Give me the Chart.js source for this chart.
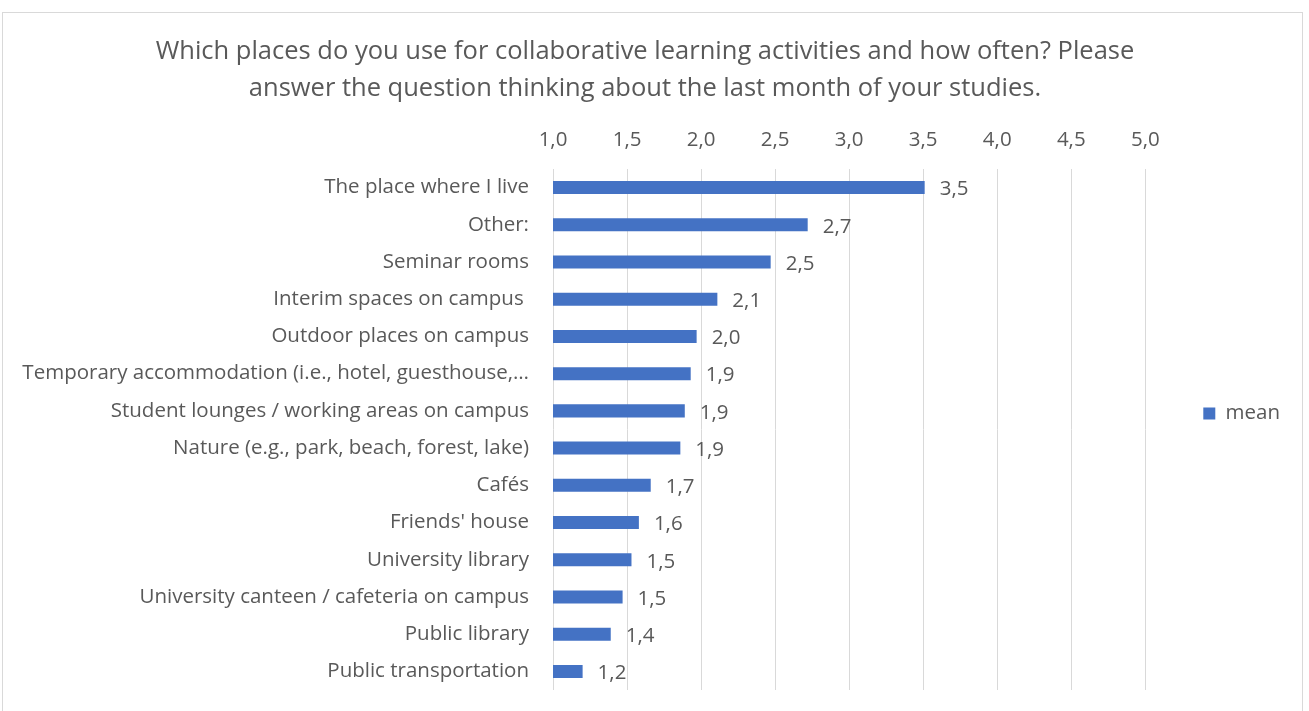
<!doctype html>
<html lang="en">
<head>
  <meta charset="utf-8" />
  <title>Collaborative learning places</title>
  <script src="https://cdn.jsdelivr.net/npm/chart.js@4.4.1/dist/chart.umd.min.js"></script>
  <style>
    body { margin: 0; background: #fff; }
    .frame {
      position: absolute; left: 2px; top: 12px; width: 1299px; height: 720px;
      border: 1px solid #d9d9d9; pointer-events: none;
    }
    #wrap { position: absolute; left: 0; top: 0; width: 1309px; height: 711px; }
  </style>
</head>
<body>
  <div id="wrap"><canvas id="chart"></canvas></div>
  <div class="frame"></div>

  <script>
    // data
    const places = [
      "The place where I live",
      "Other:",
      "Seminar rooms",
      "Interim spaces on campus ",
      "Outdoor places on campus",
      "Temporary accommodation (i.e., hotel, guesthouse,…",
      "Student lounges / working areas on campus",
      "Nature (e.g., park, beach, forest, lake)",
      "Cafés",
      "Friends' house",
      "University library",
      "University canteen / cafeteria on campus",
      "Public library",
      "Public transportation"
    ];
    const meanValues = [3.51, 2.72, 2.47, 2.11, 1.97, 1.93, 1.89, 1.86, 1.66, 1.58, 1.53, 1.47, 1.39, 1.20];
    const seriesName = "mean";

    const textColor = "#595959";
    const fontFamily = "'Open Sans', sans-serif";
    const comma = (v) => Number(v).toFixed(1).replace(".", ",");

    // value labels at the end of each bar
    const barLabels = {
      id: "barLabels",
      afterDatasetsDraw(chart) {
        const ctx = chart.ctx;
        ctx.save();
        ctx.fillStyle = textColor;
        ctx.font = "20.5px " + fontFamily;
        ctx.textAlign = "left";
        ctx.textBaseline = "middle";
        chart.getDatasetMeta(0).data.forEach((bar, i) => {
          ctx.fillText(comma(meanValues[i]), bar.x + 15, bar.y + 2);
        });
        ctx.restore();
      }
    };

    new Chart(document.getElementById("chart"), {
      type: "bar",
      plugins: [barLabels],
      data: {
        labels: places,
        datasets: [{
          label: seriesName,
          data: meanValues,
          backgroundColor: "#4472C4",
          borderWidth: 0,
          barPercentage: 0.7,
          categoryPercentage: 0.5
        }]
      },
      options: {
        indexAxis: "y",
        responsive: true,
        maintainAspectRatio: false,
        animation: false,
        layout: { padding: { top: 33, bottom: 21, right: 19, left: 0 } },
        plugins: {
          tooltip: { enabled: false },
          title: {
            display: true,
            text: [
              "Which places do you use for collaborative learning activities and how often? Please",
              "answer the question thinking about the last month of your studies."
            ],
            color: textColor,
            font: { family: fontFamily, size: 25.5, weight: "normal", lineHeight: 1.45 },
            padding: { top: 0, bottom: 0 }
          },
          legend: {
            position: "right",
            maxWidth: 164,
            title: {
              display: true,
              text: " ",
              font: { size: 10, lineHeight: 1 },
              padding: { top: 0, bottom: 94 }
            },
            labels: {
              color: textColor,
              font: { family: fontFamily, size: 20.5 },
              boxWidth: 12,
              boxHeight: 12,
              padding: 58
            }
          }
        },
        scales: {
          x: {
            position: "top",
            min: 1,
            max: 5,
            ticks: {
              stepSize: 0.5,
              color: textColor,
              font: { family: fontFamily, size: 20.5 },
              padding: 16,
              callback: (v) => comma(v)
            },
            grid: { color: "#d9d9d9", drawTicks: false },
            border: { display: false },
            afterFit: (scale) => { scale.height = 62; }
          },
          y: {
            ticks: {
              color: textColor,
              font: { family: fontFamily, size: 20.5 },
              padding: 24,
              autoSkip: false
            },
            grid: { display: false, drawTicks: false },
            border: { display: false },
            afterFit: (scale) => {
              scale.width = 553;
              scale.paddingTop = 0;
              scale.paddingBottom = 0;
            }
          }
        }
      }
    });
  </script>
</body>
</html>
